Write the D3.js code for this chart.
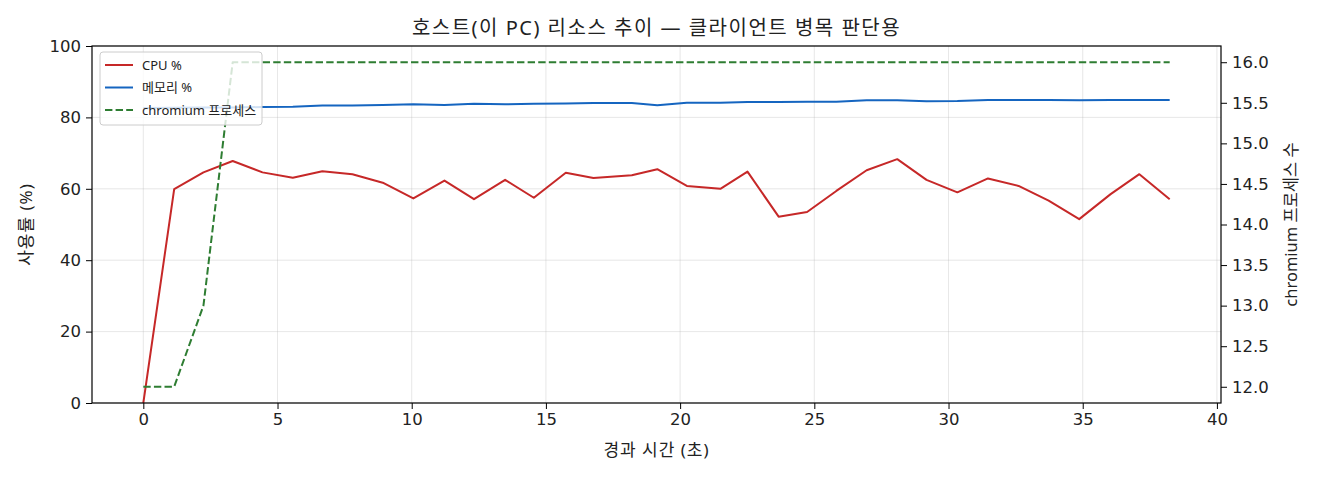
<!DOCTYPE html>
<html>
<head>
<meta charset="utf-8">
<script src="https://cdn.jsdelivr.net/npm/d3@7/dist/d3.min.js"></script>
<style>
  html, body { margin: 0; padding: 0; background: #fff; }
  svg { display: block; }
  text { font-family: "Noto Sans", "Noto Sans CJK KR", sans-serif; fill: #222; }
</style>
</head>
<body>
<svg id="chart" width="1320" height="480"></svg>
<script>
// ---- data ----
const times = [0, 1.15, 2.24, 3.33, 4.44, 5.57, 6.67, 7.79, 8.92, 10.06, 11.22, 12.32, 13.48, 14.55, 15.74, 16.77, 18.2, 19.15, 20.25, 21.5, 22.51, 23.67, 24.73, 25.82, 26.95, 28.09, 29.18, 30.33, 31.47, 32.61, 33.73, 34.87, 36.04, 37.11, 38.24];
const cpuPct = [0, 59.9, 64.6, 67.8, 64.6, 63.1, 64.9, 64.1, 61.7, 57.3, 62.3, 57.1, 62.5, 57.5, 64.5, 63.0, 63.8, 65.5, 60.8, 60.0, 64.8, 52.2, 53.5, 59.4, 65.2, 68.3, 62.5, 59.0, 62.9, 60.8, 56.7, 51.5, 58.5, 64.1, 57.1];
const memPct = [82.6, 82.7, 82.8, 82.8, 82.9, 83.0, 83.3, 83.3, 83.5, 83.7, 83.5, 83.8, 83.7, 83.8, 83.9, 84.0, 84.0, 83.4, 84.1, 84.1, 84.3, 84.3, 84.4, 84.4, 84.8, 84.8, 84.5, 84.6, 84.9, 84.9, 84.9, 84.8, 84.9, 84.9, 84.9];
const procCount = [12, 12, 13, 16, 16, 16, 16, 16, 16, 16, 16, 16, 16, 16, 16, 16, 16, 16, 16, 16, 16, 16, 16, 16, 16, 16, 16, 16, 16, 16, 16, 16, 16, 16, 16];
const xTicks = [0, 5, 10, 15, 20, 25, 30, 35, 40];
const yTicks = [0, 20, 40, 60, 80, 100];
const y2Ticks = [12.0, 12.5, 13.0, 13.5, 14.0, 14.5, 15.0, 15.5, 16.0];
const titleText = "호스트(이 PC) 리소스 추이 — 클라이언트 병목 판단용";
const xLabel = "경과 시간 (초)";
const yLabel = "사용률 (%)";
const y2Label = "chromium 프로세스 수";
const seriesNames = ["CPU %", "메모리 %", "chromium 프로세스"];

// ---- layout ----
const L = 92, R = 1221, T = 46, B = 403;
const svg = d3.select("#chart");

const xmin = d3.min(times), xmax = d3.max(times);
const xpad = (xmax - xmin) * 0.05;
const x = d3.scaleLinear().domain([xmin - xpad, xmax + xpad]).range([L, R]);
const y = d3.scaleLinear().domain([0, 100]).range([B, T]);
const pmin = d3.min(procCount), pmax = d3.max(procCount);
const ppad = (pmax - pmin) * 0.05;
const y2 = d3.scaleLinear().domain([pmin - ppad, pmax + ppad]).range([B, T]);

// grid
const grid = svg.append("g");
grid.selectAll("line.vx").data(xTicks.filter(d => x(d) >= L && x(d) <= R)).join("line")
  .attr("x1", d => x(d)).attr("x2", d => x(d)).attr("y1", T).attr("y2", B)
  .attr("stroke", "#b0b0b0").attr("stroke-opacity", 0.3).attr("stroke-width", 1);
grid.selectAll("line.hy").data(yTicks).join("line")
  .attr("x1", L).attr("x2", R).attr("y1", d => y(d)).attr("y2", d => y(d))
  .attr("stroke", "#b0b0b0").attr("stroke-opacity", 0.3).attr("stroke-width", 1);

// lines
svg.append("clipPath").attr("id", "clip").append("rect")
  .attr("x", L).attr("y", T).attr("width", R - L).attr("height", B - T);
const plot = svg.append("g").attr("clip-path", "url(#clip)");
const idx = d3.range(times.length);
plot.append("path").datum(idx)
  .attr("d", d3.line().x(i => x(times[i])).y(i => y(cpuPct[i])))
  .attr("fill", "none").attr("stroke", "#c62828").attr("stroke-width", 2).attr("stroke-linejoin", "round");
plot.append("path").datum(idx)
  .attr("d", d3.line().x(i => x(times[i])).y(i => y(memPct[i])))
  .attr("fill", "none").attr("stroke", "#1565c0").attr("stroke-width", 2).attr("stroke-linejoin", "round");
plot.append("path").datum(idx)
  .attr("d", d3.line().x(i => x(times[i])).y(i => y2(procCount[i])))
  .attr("fill", "none").attr("stroke", "#2e7d32").attr("stroke-width", 2)
  .attr("stroke-dasharray", "7.4,3.2").attr("stroke-linejoin", "round");

// axes
const tickFont = "'DejaVu Sans', 'Noto Sans CJK KR', sans-serif";
const xAxis = svg.append("g").attr("transform", `translate(0,${B})`)
  .call(d3.axisBottom(x).tickValues(xTicks).tickFormat(d3.format("d")).tickSizeOuter(0).tickSize(6).tickPadding(4));
const yAxis = svg.append("g").attr("transform", `translate(${L},0)`)
  .call(d3.axisLeft(y).tickValues(yTicks).tickFormat(d3.format("d")).tickSizeOuter(0).tickSize(6).tickPadding(5));
const y2Axis = svg.append("g").attr("transform", `translate(${R},0)`)
  .call(d3.axisRight(y2).tickValues(y2Ticks).tickFormat(d3.format(".1f")).tickSizeOuter(0).tickSize(6).tickPadding(5));
[xAxis, yAxis, y2Axis].forEach(g => {
  g.select(".domain").remove();
  g.selectAll(".tick line").attr("stroke", "#000").attr("stroke-width", 1);
  g.selectAll(".tick text").attr("font-size", 16.5).attr("fill", "#222")
    .style("font-family", tickFont);
});

// frame
svg.append("rect").attr("x", L).attr("y", T).attr("width", R - L).attr("height", B - T)
  .attr("fill", "none").attr("stroke", "#000").attr("stroke-width", 1.2);

// labels
svg.append("text").attr("x", (L + R) / 2).attr("y", 35).attr("text-anchor", "middle")
  .attr("font-size", 20).attr("letter-spacing", 1.5).text(titleText);
svg.append("text").attr("x", (L + R) / 2).attr("y", 456).attr("text-anchor", "middle")
  .attr("font-size", 17).attr("letter-spacing", 1).text(xLabel);
svg.append("text").attr("transform", `translate(32,${(T + B) / 2}) rotate(-90)`).attr("text-anchor", "middle")
  .attr("font-size", 17).attr("letter-spacing", 1).text(yLabel);
svg.append("text").attr("transform", `translate(1297,${(T + B) / 2}) rotate(-90)`).attr("text-anchor", "middle")
  .attr("font-size", 16.5).text(y2Label);

// legend
const lg = svg.append("g").attr("transform", "translate(100,52)");
lg.append("rect").attr("x", 0).attr("y", 0).attr("width", 162).attr("height", 73).attr("rx", 3)
  .attr("fill", "#fff").attr("fill-opacity", 0.8).attr("stroke", "#cccccc").attr("stroke-width", 1);
const legendStyles = [
  { color: "#c62828", dash: null },
  { color: "#1565c0", dash: null },
  { color: "#2e7d32", dash: "7.4,3.2" }
];
seriesNames.forEach((name, i) => {
  const yy = 13 + i * 22.5;
  const ln = lg.append("line").attr("x1", 5).attr("x2", 33).attr("y1", yy).attr("y2", yy)
    .attr("stroke", legendStyles[i].color).attr("stroke-width", 2);
  if (legendStyles[i].dash) ln.attr("stroke-dasharray", legendStyles[i].dash);
  lg.append("text").attr("x", 42).attr("y", yy).attr("dy", "0.35em").attr("font-size", 13).text(name);
});
</script>
</body>
</html>
